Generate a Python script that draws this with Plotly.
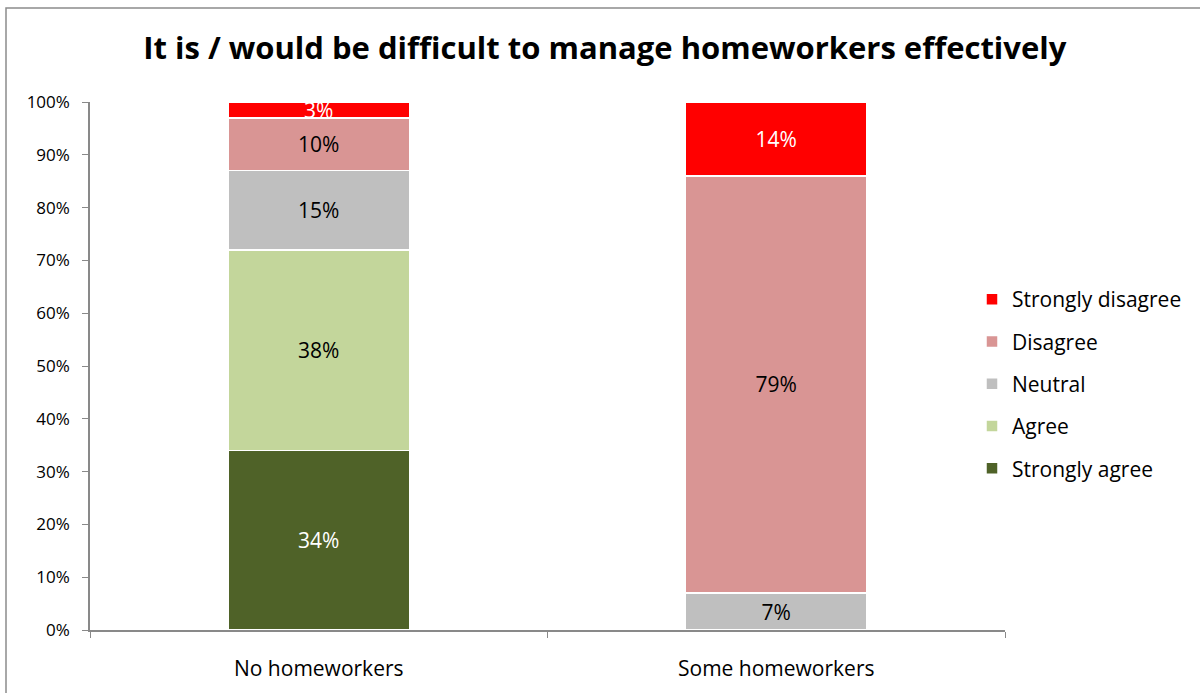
import plotly.graph_objects as go

categories = ["No homeworkers", "Some homeworkers"]
responses = ["Strongly agree", "Agree", "Neutral", "Disagree", "Strongly disagree"]
strongly_agree = [34, None]
agree = [38, None]
neutral = [15, 7]
disagree = [10, 79]
strongly_disagree = [3, 14]
y_ticks = [0, 10, 20, 30, 40, 50, 60, 70, 80, 90, 100]

series = [strongly_agree, agree, neutral, disagree, strongly_disagree]
colors = ["#4F6228", "#C3D69B", "#BFBFBF", "#D99594", "#FF0000"]
label_colors = ["white", "black", "black", "black", "white"]

FONT = "Open Sans, Calibri, sans-serif"

fig = go.Figure()
for i, (name, vals) in enumerate(zip(responses, series)):
    fig.add_trace(go.Bar(
        x=categories, y=vals, name=name,
        marker=dict(color=colors[i], line=dict(color="white", width=1.5)),
        text=[f"{v}%" if v is not None else "" for v in vals],
        textposition="inside", insidetextanchor="middle",
        textfont=dict(family=FONT, size=21, color=label_colors[i]),
        legendgroup=name, legendrank=len(responses) - i, hoverinfo="skip",
    ))

W, H = 1200, 693
L, R, T, B = 90, 195, 102, 63
pw, ph = W - L - R, H - T - B

def px(x):
    return (x - L) / pw

def py(y):
    return (H - B - y) / ph

fig.update_layout(
    width=W, height=H,
    barmode="stack", bargap=0.604,
    margin=dict(l=L, r=R, t=T, b=B),
    plot_bgcolor="white", paper_bgcolor="white",
    font=dict(family=FONT, color="black"),
    uniformtext=dict(minsize=21, mode="show"),
    title=dict(text="<b>It is / would be difficult to manage homeworkers effectively</b>",
               x=0.504, xanchor="center", y=1 - 48 / H, yanchor="middle",
               font=dict(family=FONT, size=31, color="black")),
    showlegend=True,
    legend=dict(x=px(972), y=py(279), xanchor="left", yanchor="top",
                traceorder="grouped", tracegroupgap=12,
                font=dict(family=FONT, size=21, color="black"),
                itemwidth=30, bgcolor="rgba(0,0,0,0)"),
    xaxis=dict(showline=True, linecolor="#898989", linewidth=1.5,
               ticks="outside", tickson="boundaries", ticklen=6, tickcolor="#898989",
               ticklabelstandoff=19,
               tickfont=dict(family=FONT, size=21), showgrid=False),
    yaxis=dict(range=[0, 100], tickvals=y_ticks,
               ticktext=[f"{t}%" for t in y_ticks],
               showline=True, linecolor="#898989", linewidth=1.5,
               ticks="outside", ticklen=6, tickcolor="#898989",
               ticklabelstandoff=9,
               tickfont=dict(family=FONT, size=17), showgrid=False, zeroline=False),
    shapes=[dict(type="rect", xref="paper", yref="paper",
                 x0=px(6), y0=py(H + 20), x1=px(W + 20), y1=py(8),
                 line=dict(color="#8C8C8C", width=1.5), layer="below")],
)

fig.write_html("out.html")
